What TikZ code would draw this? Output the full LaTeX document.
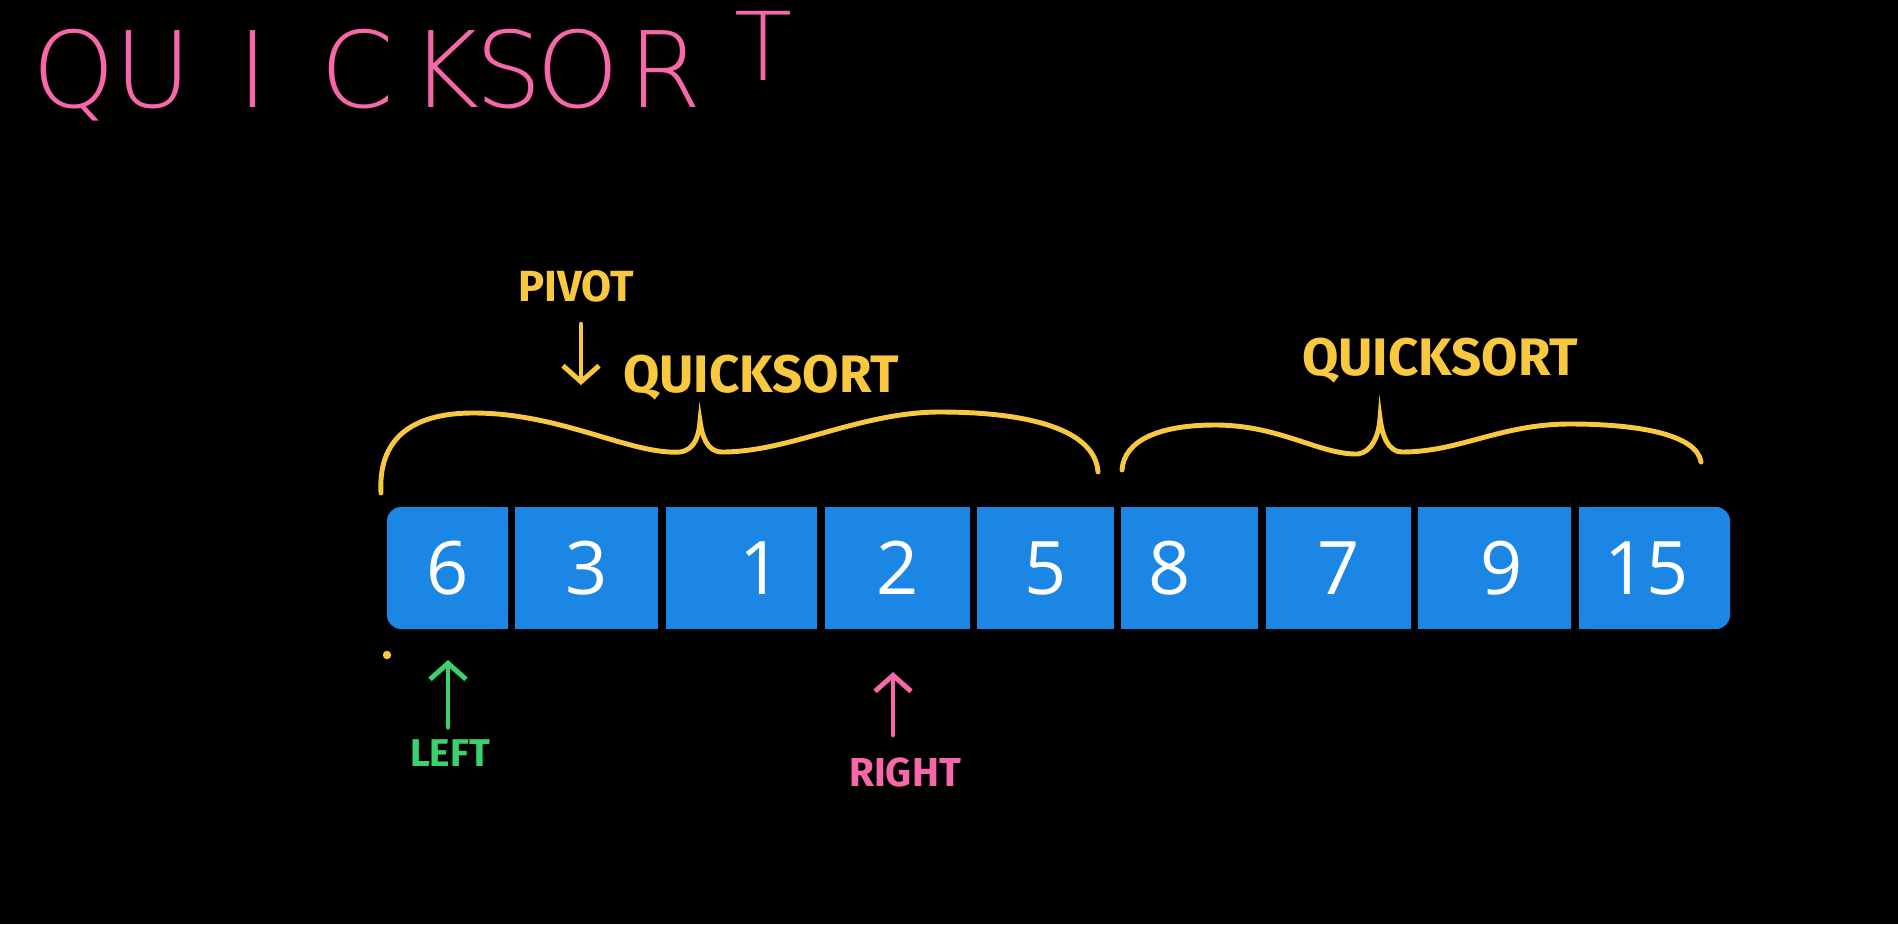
\documentclass[tikz,border=0pt]{standalone}
\usepackage{fontspec}
\newfontfamily\TitleFont{DejaVu Sans ExtraLight}
\newfontfamily\HandFont{Fira Sans}
\newfontfamily\DigitFont{Open Sans}
\usepackage{xcolor}
\definecolor{Col1}{RGB}{246,104,170}
\definecolor{Col2}{RGB}{248,200,64}
\definecolor{Col3}{RGB}{28,134,228}
\definecolor{Col4}{RGB}{58,210,110}
\usepackage{tikz}
\usetikzlibrary{arrows.meta}
\tikzstyle{Title}=[text=Col1,font=\TitleFont\fontsize{30}{30}\selectfont,
anchor=base,inner sep=0pt]
\tikzstyle{Cell}=[fill=Col3,minimum height=1.22cm,inner sep=0pt,outer sep=0pt]
\tikzstyle{Num}=[text=white,font=\DigitFont\fontsize{21}{21}\selectfont]
\tikzstyle{Note}=[text=Col2,font=\HandFont\bfseries\fontsize{15}{15}\selectfont]
\tikzstyle{Brace}=[draw=Col2,line width=1.4pt,line cap=round]
\tikzstyle{Arrow}=[line width=1.4pt,line cap=round,
-{Straight Barb[length=1.6mm,width=3.6mm]}]

\begin{document}
\begin{tikzpicture}[x=.01cm,y=.01cm]
            \useasboundingbox(0,0)rectangle(1898,-924);
            \fill[black](0,0)rectangle(1898,-924);
            \node[Title](t1)at(74,-107){Q};
            \node[Title](t2)at(153,-107){U};
            \node[Title](t3)at(253,-107){I};
            \node[Title](t4)at(357,-107){C};
            \node[Title](t5)at(445,-107){K};
            \node[Title](t6)at(509,-107){S};
            \node[Title](t7)at(578,-107){O};
            \node[Title](t8)at(665,-107){R};
            \node[Title,font=\TitleFont\fontsize{27}{27}\selectfont](t9)at(763,-80){T};
            \node[Cell,minimum width=1.21cm,rounded corners=4pt](c1)at(447.5,-568){};
            \node[Cell,minimum width=1.43cm](c2)at(586.5,-568){};
            \node[Cell,minimum width=1.51cm](c3)at(741.5,-568){};
            \node[Cell,minimum width=1.45cm](c4)at(897.5,-568){};
            \node[Cell,minimum width=1.37cm](c5)at(1045.5,-568){};
            \node[Cell,minimum width=1.37cm](c6)at(1189.5,-568){};
            \node[Cell,minimum width=1.45cm](c7)at(1338.5,-568){};
            \node[Cell,minimum width=1.53cm](c8)at(1494.5,-568){};
            \node[Cell,minimum width=1.51cm,rounded corners=4pt](c9)at(1654.5,-568){};
            \fill[Col3](c1.north)rectangle(c1.south east);
            \fill[Col3](c9.north)rectangle(c9.south west);
            \node[Num](n1)at(c1){6};
            \node[Num](n2)at(c2){3};
            \node[Num](n3)at([xshift=.19cm]c3){1};
            \node[Num](n4)at(c4){2};
            \node[Num](n5)at(c5){5};
            \node[Num](n6)at([xshift=-.2cm]c6){8};
            \node[Num](n7)at(c7){7};
            \node[Num](n8)at([xshift=.07cm]c8){9};
            \node[Num](n9)at([xshift=-.08cm]c9){15};
            \node[Note,font=\HandFont\bfseries\fontsize{12.4}{12.4}\selectfont](p)
                at(576,-286){PIVOT};
            \node[Note](q1)at(761,-378){QUICKSORT};
            \node[Note](q2)at(1440,-361){QUICKSORT};
            \node[Note,text=Col4,font=\HandFont\bfseries\fontsize{11}{11}\selectfont](l)
                at(450,-753){LEFT};
            \node[Note,text=Col1,font=\HandFont\bfseries\fontsize{11.5}{11.5}\selectfont](r)
                at(905,-772){RIGHT};
            \coordinate(pt)at(581,-385);
            \coordinate(lt)at(448,-660);
            \coordinate(rt)at(893,-672);
            \draw[Arrow,draw=Col2,shorten <=1mm](p.south-|pt)--(pt);
            \draw[Arrow,draw=Col4](l.north-|lt)--(lt);
            \draw[Arrow,draw=Col1,shorten <=1mm](r.north-|rt)--(rt);
            \fill[Col2](387,-655)circle[radius=1.2pt];
            \draw[Brace](381,-493)..controls(378,-440)and(410,-414)..(470,-413)
                ..controls(560,-412)and(630,-455)..(680,-452)
                ..controls(695,-450)and(699,-435)..(700,-421)
                ..controls(702,-436)and(707,-452)..(722,-452)
                ..controls(790,-452)and(860,-412)..(940,-412)
                ..controls(1030,-412)and(1095,-430)..(1098,-472);
            \draw[Brace](1122,-470)..controls(1124,-440)and(1160,-425)..(1215,-425)
                ..controls(1280,-425)and(1320,-455)..(1358,-454)
                ..controls(1372,-452)and(1379,-435)..(1380,-418)
                ..controls(1382,-435)and(1388,-452)..(1402,-452)
                ..controls(1460,-452)and(1500,-424)..(1570,-424)
                ..controls(1640,-424)and(1697,-435)..(1701,-462);
        \end{tikzpicture}
\end{document}
